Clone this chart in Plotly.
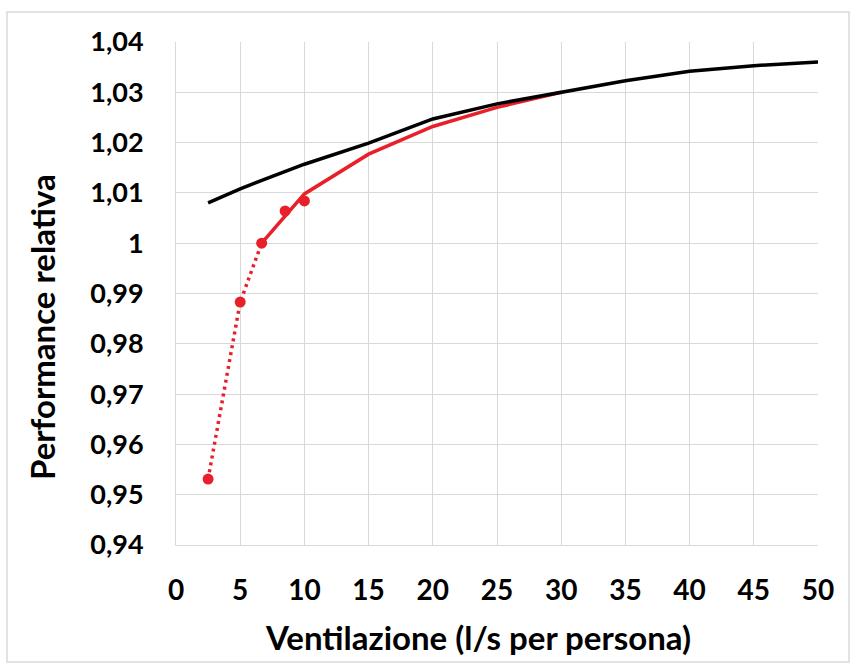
import plotly.graph_objects as go

# Data
black_x = [2.5, 5, 7.5, 10, 15, 20, 25, 30, 35, 40, 45, 50]
black_y = [1.0080, 1.0108, 1.0133, 1.0157, 1.0199, 1.0247, 1.0277, 1.0300, 1.0323, 1.0342, 1.0353, 1.0360]

red_solid_x = [6.67, 10, 15, 20, 25, 30]
red_solid_y = [1.0000, 1.0098, 1.0177, 1.0232, 1.0270, 1.0300]

red_dotted_x = [2.5, 5, 6.67]
red_dotted_y = [0.9531, 0.9883, 1.0000]

red_marker_x = [2.5, 5, 6.67, 8.5, 10]
red_marker_y = [0.9531, 0.9883, 1.0000, 1.0064, 1.0084]

x_ticks = [0, 5, 10, 15, 20, 25, 30, 35, 40, 45, 50]
y_ticks = [0.94, 0.95, 0.96, 0.97, 0.98, 0.99, 1.00, 1.01, 1.02, 1.03, 1.04]
y_ticktext = ["0,94", "0,95", "0,96", "0,97", "0,98", "0,99", "1", "1,01", "1,02", "1,03", "1,04"]

x_title = "Ventilazione (l/s per persona)"
y_title = "Performance relativa"

RED = "#E8202A"
FONT = "Lato"
PW, PH, L, T = 642, 503, 176, 42

fig = go.Figure()
fig.add_trace(go.Scatter(x=red_dotted_x, y=red_dotted_y, mode="lines",
                         line=dict(color=RED, width=3.5, dash="3px,4px"), hoverinfo="skip"))
fig.add_trace(go.Scatter(x=red_solid_x, y=red_solid_y, mode="lines",
                         line=dict(color=RED, width=3.5)))
fig.add_trace(go.Scatter(x=black_x, y=black_y, mode="lines",
                         line=dict(color="black", width=3.5)))
fig.add_trace(go.Scatter(x=red_marker_x, y=red_marker_y, mode="markers",
                         marker=dict(color=RED, size=11)))

fig.update_layout(
    width=850, height=663,
    margin=dict(l=L, r=32, t=T, b=118),
    paper_bgcolor="white", plot_bgcolor="white",
    showlegend=False,
    font=dict(family=FONT, color="black"),
    shapes=[dict(type="rect", xref="paper", yref="paper",
                 x0=(7 - L) / PW, x1=(849 - L) / PW,
                 y0=(T + PH - 662) / PH, y1=(T + PH - 12) / PH,
                 line=dict(color="#d9d9d9", width=1.5), layer="below")],
    annotations=[
        dict(text=x_title, xref="paper", yref="paper",
             x=(478 - L) / PW, y=(T + PH - 637) / PH, xanchor="center", yanchor="middle",
             showarrow=False, font=dict(family=FONT, size=33, color="black", weight="bold")),
        dict(text=y_title, xref="paper", yref="paper", textangle=-90,
             x=(42 - L) / PW, y=(T + PH - 327) / PH, xanchor="center", yanchor="middle",
             showarrow=False, font=dict(family=FONT, size=33, color="black", weight="bold")),
    ],
)
fig.update_xaxes(
    range=[0, 50], tickvals=x_ticks, showgrid=True, gridcolor="#d9d9d9", gridwidth=1,
    showline=True, linecolor="#d9d9d9", linewidth=1, zeroline=False,
    ticks="outside", ticklen=20, tickcolor="rgba(0,0,0,0)",
    tickfont=dict(family=FONT, size=28, color="black", weight="bold"),
)
fig.update_yaxes(
    range=[0.94, 1.04], tickvals=y_ticks, ticktext=y_ticktext, showgrid=True,
    gridcolor="#d9d9d9", gridwidth=1, showline=True, linecolor="#d9d9d9", linewidth=1,
    zeroline=False, ticks="outside", ticklen=26, tickcolor="rgba(0,0,0,0)",
    tickfont=dict(family=FONT, size=27, color="black", weight="bold"),
)

fig.write_html("out.html")
